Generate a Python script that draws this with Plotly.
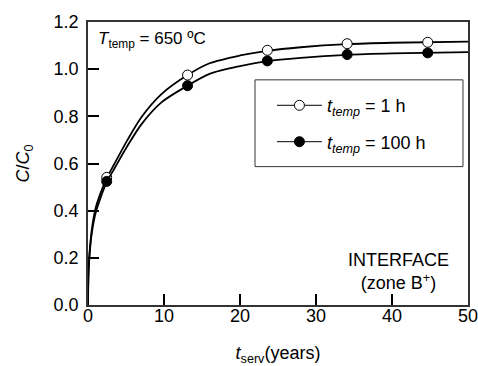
import plotly.graph_objects as go

# Measured points (t_serv in years, C/C0)
t_points = [2.46, 13.1, 23.6, 34.1, 44.7]
c_1h = [0.541, 0.975, 1.080, 1.108, 1.114]
c_100h = [0.524, 0.930, 1.035, 1.062, 1.069]

# Fitted curves
t_curve = [0, 0.05, 0.2, 0.5, 1.0, 1.6, 2.46, 3.5, 5.2, 7, 9.7, 13.1, 16, 20, 23.6, 28, 34.1, 40, 50]
curve_1h = [0, 0.12, 0.22, 0.32, 0.41, 0.47, 0.537, 0.60, 0.70, 0.795, 0.895, 0.975, 1.025, 1.058, 1.078, 1.093, 1.106, 1.112, 1.117]
curve_100h = [0, 0.115, 0.21, 0.305, 0.39, 0.45, 0.521, 0.58, 0.675, 0.765, 0.86, 0.93, 0.98, 1.013, 1.034, 1.048, 1.061, 1.067, 1.072]

series_names = ["<i>t<sub>temp</sub></i> = 1 h", "<i>t<sub>temp</sub></i> = 100 h"]

FONT = "Arial, Liberation Sans, sans-serif"
fig = go.Figure()

for i, (curve, pts, name, fill) in enumerate([(curve_1h, c_1h, series_names[0], "white"),
                                              (curve_100h, c_100h, series_names[1], "black")]):
    fig.add_trace(go.Scatter(x=t_curve, y=curve, mode="lines",
                             line=dict(color="black", width=1.8, shape="spline", smoothing=0.8),
                             showlegend=False, hoverinfo="skip"))
    fig.add_trace(go.Scatter(x=t_points, y=pts, mode="markers",
                             marker=dict(symbol="circle", size=10, color=fill, line=dict(color="black", width=1)),
                             showlegend=False))
    fig.add_trace(go.Scatter(x=[None], y=[None], mode="lines+markers", name=name, legendgroup=f"g{i}",
                             line=dict(color="black", width=1),
                             marker=dict(symbol="circle", size=10, color=fill, line=dict(color="black", width=1))))

fig.update_layout(
    width=478, height=366,
    margin=dict(l=88, r=10, t=22, b=61),
    paper_bgcolor="white", plot_bgcolor="white",
    font=dict(family=FONT, size=17, color="black"),
    showlegend=True,
    legend=dict(x=0.484, y=0.77, xanchor="left", yanchor="top",
                borderwidth=0, bgcolor="rgba(0,0,0,0)",
                font=dict(size=18), tracegroupgap=10, itemwidth=45),
    shapes=[dict(type="rect", xref="paper", yref="paper", x0=0.4395, x1=0.9868, y0=0.489, y1=0.7956,
                 line=dict(color="#333", width=1), fillcolor="white", layer="below")],
    xaxis=dict(range=[0, 50], tickvals=[0, 10, 20, 30, 40, 50], ticks="inside", ticklen=11, tickwidth=1.5,
               tickcolor="black", showline=True, linecolor="#333", linewidth=1.5, mirror=True,
               showgrid=False, zeroline=False, tickfont=dict(size=18), automargin=False,
               ticklabelstandoff=-6, ticklabeloverflow="allow",
               title=dict(text="<i>t</i><sub>serv</sub>(years)", font=dict(size=18), standoff=25)),
    yaxis=dict(range=[0, 1.2], tickvals=[0, 0.2, 0.4, 0.6, 0.8, 1.0, 1.2], tickformat=".1f",
               ticks="inside", ticklen=11, tickwidth=1.5, tickcolor="black", showline=True, linecolor="#333",
               linewidth=1.5, mirror=True, showgrid=False, zeroline=False, tickfont=dict(size=18),
               ticklabelstandoff=4, automargin=False, ticklabeloverflow="allow",
               title=dict(text="<i>C</i>/<i>C</i><sub>0</sub>", font=dict(size=18), standoff=19)),
    annotations=[
        dict(xref="paper", yref="paper", x=0.02, y=0.935, xanchor="left", yanchor="middle",
             text="<i>T</i><sub>temp</sub> = 650 ºC", showarrow=False, font=dict(size=17)),
        dict(xref="paper", yref="paper", x=0.818, y=0.12, xanchor="center", yanchor="middle",
             text="INTERFACE<br>(zone B<sup>+</sup>)", showarrow=False, font=dict(size=18)),
    ],
)

fig.write_html("out.html", config={"displayModeBar": False})

# remove the default page margin so the figure sits at the window origin
with open("out.html", encoding="utf-8") as f:
    html = f.read()
html = html.replace("<head>", "<head><style>body{margin:0;padding:0;overflow:hidden}</style>", 1)
with open("out.html", "w", encoding="utf-8") as f:
    f.write(html)
